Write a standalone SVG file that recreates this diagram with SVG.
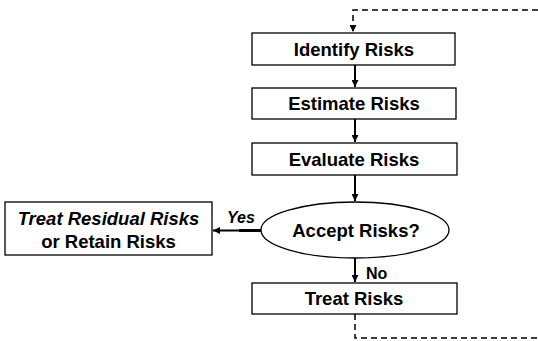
<svg xmlns="http://www.w3.org/2000/svg" width="538" height="341" viewBox="0 0 538 341">
<style>
.box{fill:#fff;stroke:#000;stroke-width:1.3}
.t{font-family:"Liberation Sans",Arial,sans-serif;font-weight:bold;font-size:18.5px;fill:#000;text-anchor:middle}
.lbl{font-family:"Liberation Sans",Arial,sans-serif;font-weight:bold;font-size:16px;fill:#000}
.c{fill:none;stroke:#000;stroke-width:2}
.d{fill:none;stroke:#000;stroke-width:1.5;stroke-dasharray:6,4}
</style>
<defs>
<marker id="ah" viewBox="0 0 10 10" refX="10" refY="5" markerWidth="7" markerHeight="7" markerUnits="userSpaceOnUse" orient="auto">
<path d="M0,0 L10,5 L0,10 z" fill="#000"/>
</marker>
</defs>
<rect width="538" height="341" fill="#fff"/>
<g id="connectors">
<path class="d" d="M538,10 H353 V32" marker-end="url(#ah)"/>
<path class="c" d="M355,65 V87" marker-end="url(#ah)"/>
<path class="c" d="M355,119 V142" marker-end="url(#ah)"/>
<path class="c" d="M355,175 V201" marker-end="url(#ah)"/>
<path class="c" d="M261,230.5 H213" marker-end="url(#ah)"/>
<path d="M239,230.5 H261" stroke="#000" stroke-width="3" fill="none"/>
<path class="c" d="M355,258 V282" marker-end="url(#ah)"/>
<path class="d" d="M355,314 V338 H538"/>
<text class="lbl" x="227" y="223" font-style="italic">Yes</text>
<text class="lbl" x="366" y="279">No</text>
</g>
<g id="identify">
<rect class="box" x="252" y="33" width="203" height="32"/>
<text class="t" x="354" y="56">Identify Risks</text>
</g>
<g id="estimate">
<rect class="box" x="252" y="88" width="204" height="31"/>
<text class="t" x="354" y="110">Estimate Risks</text>
</g>
<g id="evaluate">
<rect class="box" x="252" y="143" width="205" height="32"/>
<text class="t" x="354" y="166">Evaluate Risks</text>
</g>
<g id="accept">
<ellipse class="box" cx="355" cy="230" rx="94" ry="28"/>
<text class="t" x="356" y="237">Accept Risks?</text>
</g>
<g id="treat">
<rect class="box" x="252" y="283" width="205" height="31"/>
<text class="t" x="354" y="305">Treat Risks</text>
</g>
<g id="residual">
<rect class="box" x="5" y="202" width="207" height="53"/>
<text class="t" x="108.5" y="225" font-style="italic">Treat Residual Risks</text>
<text class="t" x="108.5" y="248">or Retain Risks</text>
</g>
</svg>
